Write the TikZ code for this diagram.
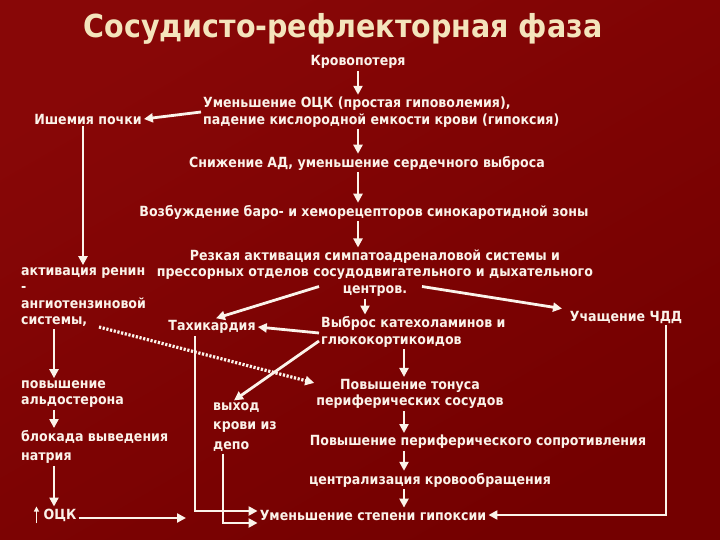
\documentclass[tikz,border=0pt]{standalone}
\usepackage{fontspec}
\setmainfont{DejaVu Sans Condensed}
\usetikzlibrary{arrows.meta}
\definecolor{bgred}{HTML}{740000}
\definecolor{bgtop}{HTML}{880707}
\definecolor{cream}{HTML}{F4E4BC}
\definecolor{ink}{HTML}{FBF3EA}
\begin{document}
\begin{tikzpicture}[x=1pt, y=-1pt,
    txt/.style={text=ink, font=\bfseries\fontsize{14}{16.5}\selectfont, inner sep=2pt},
    arr/.style={draw=ink, line width=2.8pt, -{Triangle[length=9pt,width=9pt]}},
    dots/.style={arr, dash pattern=on 2.2pt off 1.6pt, line width=3.2pt}]
            % background
            \fill[bgred] (0,0) rectangle (720,540);
            \shade[top color=bgtop, middle color=bgred, bottom color=bgred, shading angle=30] (0,0) rectangle (720,540);
            \node[text=cream, font=\bfseries\fontsize{31.7}{36}\selectfont] (title) at (343,29) {Сосудисто-рефлекторная фаза};
            % nodes
            \node[txt] (blood) at (358,62) {Кровопотеря};
            \node[txt, anchor=west, align=left] (ock) at (201,112) {Уменьшение ОЦК (простая гиповолемия),\\падение кислородной емкости крови (гипоксия)};
            \node[txt] (isch) at (88,119) {Ишемия почки};
            \node[txt] (bp) at (367,163) {Снижение АД, уменьшение сердечного выброса};
            \node[txt] (baro) at (364,212) {Возбуждение баро- и хеморецепторов синокаротидной зоны};
            \node[txt, align=center] (symp) at (375,273) {Резкая активация симпатоадреналовой системы и\\прессорных отделов сосудодвигательного и дыхательного\\центров.};
            \node[txt, anchor=west, align=left] (renin) at (19,297) {активация ренин\\-\\ангиотензиновой\\системы,};
            \node[txt] (tachy) at (212,327) {Тахикардия};
            \node[txt, anchor=west, align=left] (katech) at (319,332) {Выброс катехоламинов и\\глюкокортикоидов};
            \node[txt] (freq) at (626,317) {Учащение ЧДД};
            \node[txt, anchor=west, align=left] (aldo) at (19,394) {повышение\\альдостерона};
            \node[txt, anchor=west, align=left, font=\bfseries\fontsize{14}{19.5}\selectfont] (natr) at (19,447) {блокада выведения\\натрия};
            \node[txt, anchor=west, align=left, font=\bfseries\fontsize{14}{19.5}\selectfont] (depot) at (211,427) {выход\\крови из\\депо};
            \node[txt, align=center] (tonus) at (410,394) {Повышение тонуса\\периферических сосудов};
            \node[txt] (resist) at (478,442) {Повышение периферического сопротивления};
            \node[txt] (central) at (430,480) {централизация кровообращения};
            \node[txt] (hypox) at (373,515) {Уменьшение степени гипоксии};
            \node[txt] (occ) at (60,515) {ОЦК};
            \coordinate (occend) at (186,519);
            % connectors
            \draw[draw=ink, line width=1.5pt, -{Triangle[length=5pt,width=5pt]}] ([xshift=-5pt]occ.south west) -- ([xshift=-5pt]occ.north west);
            \draw[arr] (blood) -- (blood |- ock.north);
            \draw[arr] (ock.west) -- (isch.east);
            \draw[arr] (blood |- ock.south) -- (blood |- bp.north);
            \draw[arr] (blood |- bp.south) -- (blood |- baro.north);
            \draw[arr] (blood |- baro.south) -- (blood |- symp.north);
            \draw[arr] ([xshift=-5pt]isch.south) -- ([xshift=-5pt]isch.south |- renin.north);
            \draw[arr] ([shift={(-56,-12)}]symp.south) -- ([xshift=4pt]tachy.north);
            \draw[arr] ([xshift=-10pt]symp.south) -- ([xshift=-10pt]symp.south |- katech.north);
            \draw[arr] ([shift={(47,-12)}]symp.south) -- ([xshift=-64pt]freq.north);
            \draw[arr] ([yshift=-1pt]katech.west) -- (tachy.east);
            \draw[arr] ([yshift=-9pt]katech.west) -- ([xshift=23pt]depot.north west);
            \draw[arr] ([xshift=85pt]katech.south west) -- ([xshift=85pt]katech.south west |- tonus.north);
            \draw[arr] ([xshift=35pt]renin.south west) -- ([xshift=35pt]renin.south west |- aldo.north);
            \draw[dots] ([shift={(80,30)}]renin.west) -- ([yshift=-6pt]tonus.north west);
            \draw[arr] ([xshift=35pt]aldo.south west) -- ([xshift=35pt]aldo.south west |- natr.north);
            \draw[arr] ([xshift=35pt]natr.south west) -- ([xshift=-6pt]occ.north);
            \draw[arr] ([yshift=-3pt]occ.east) -- ([yshift=-3pt]occ.east -| occend);
            \draw[arr] ([xshift=-17pt]tachy.south) |- ([yshift=4pt]hypox.west);
            \draw[arr] ([xshift=12pt]depot.south west) |- ([yshift=-8pt]hypox.west);
            \draw[arr] ([xshift=-6pt]tonus.south) -- ([xshift=-6pt]tonus.south |- resist.north);
            \draw[arr] ([xshift=-6pt]tonus.south |- resist.south) -- ([xshift=-6pt]tonus.south |- central.north);
            \draw[arr] ([xshift=-6pt]tonus.south |- central.south) -- ([xshift=-6pt]tonus.south |- hypox.north);
            \draw[arr] ([xshift=40pt]freq.south) |- (hypox.east);
\end{tikzpicture}
\end{document}
